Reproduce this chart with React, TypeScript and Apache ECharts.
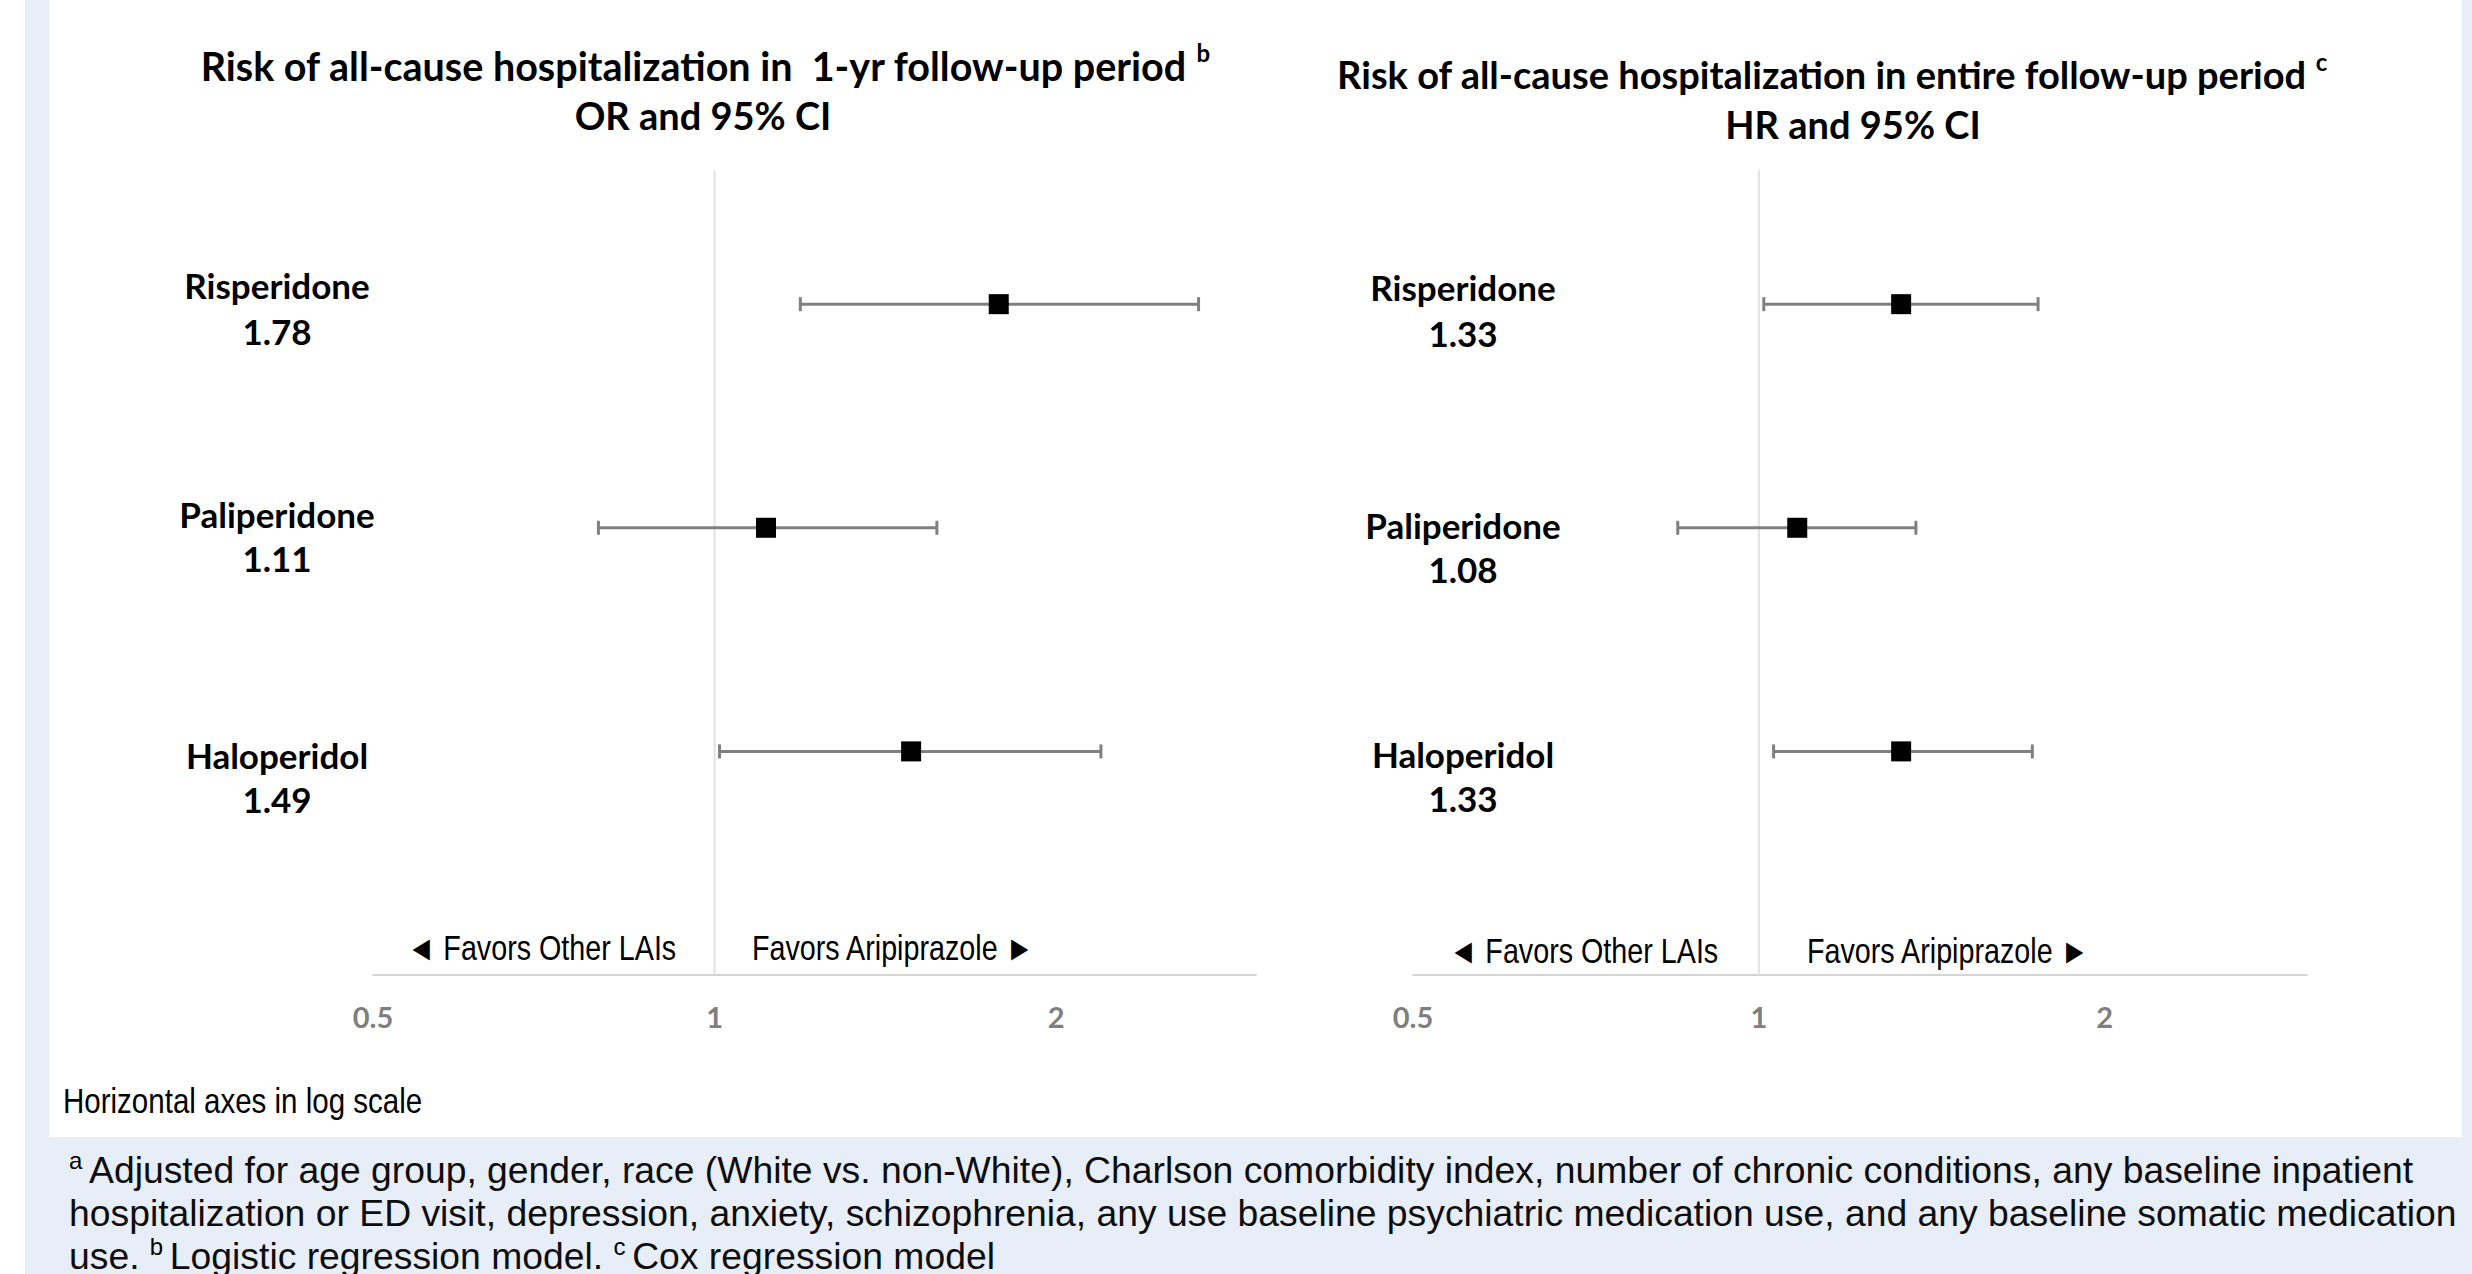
import { useEffect, useRef } from "react";
import * as echarts from "echarts";

// ---------- data ----------
const drugs = ["Risperidone", "Paliperidone", "Haloperidol"];
const rowY = [3, 2, 1];
const orValues = [1.78, 1.11, 1.49];
const orLower = [1.19, 0.79, 1.01];
const orUpper = [2.67, 1.57, 2.19];
const hrValues = [1.33, 1.08, 1.33];
const hrLower = [1.01, 0.85, 1.03];
const hrUpper = [1.75, 1.37, 1.73];
const tickValues = [0.5, 1, 2];
const tickLabels = ["0.5", "1", "2"];
const axisMin = 0.5;
const axisMax = 3;
const yMax = 3.6;

const leftTitle = "Risk of all-cause hospitalization in  1-yr follow-up period";
const leftTitleSup = "b";
const leftSubtitle = "OR and 95% CI";
const rightTitle = "Risk of all-cause hospitalization in entire follow-up period";
const rightTitleSup = "c";
const rightSubtitle = "HR and 95% CI";
const favorsLeft = "\u25C4 Favors Other LAIs";
const favorsRight = "Favors Aripiprazole \u25BA";
const axesNote = "Horizontal axes in log scale";
const footLines = [
  "{sup|a }Adjusted for age group, gender, race (White vs. non-White), Charlson comorbidity index, number of chronic conditions, any baseline inpatient",
  "hospitalization or ED visit, depression, anxiety, schizophrenia, any use baseline psychiatric medication use, and any baseline somatic medication",
  "use. {sup|b }Logistic regression model. {sup|c }Cox regression model",
];

const CAL = "Lato, 'Open Sans', sans-serif";
const ARIAL = "'Liberation Sans', Arial, sans-serif";

export default function App() {
  const ref = useRef<HTMLDivElement>(null);

  useEffect(() => {
    document.body.style.margin = "0";
    const chart = echarts.init(ref.current!, null, { renderer: "svg" });

    const grids = [
      { left: 373, top: 170, width: 883, height: 805 },
      { left: 1413, top: 170, width: 894, height: 805 },
    ];

    const xAxis = grids.map((_, i) => ({
      type: "log",
      logBase: 2,
      gridIndex: i,
      min: axisMin,
      max: axisMax,
      axisLine: { show: true, lineStyle: { color: "#d4d4d4", width: 2 } },
      axisTick: { show: false },
      splitLine: { show: false },
      axisLabel: {
        color: "#7f7f7f",
        fontFamily: CAL,
        fontWeight: "bold",
        fontSize: 29,
        margin: 27,
        showMaxLabel: false,
        formatter: (v: number) => {
          const k = tickValues.findIndex((t) => Math.abs(t - v) < 1e-6);
          return k >= 0 ? tickLabels[k] : "";
        },
      },
    }));

    const yAxis = grids.map((_, i) => ({
      type: "value",
      gridIndex: i,
      min: 0,
      max: yMax,
      show: false,
    }));

    const refLine = (i: number) => ({
      type: "line",
      xAxisIndex: i,
      yAxisIndex: i,
      data: [
        [1, 0],
        [1, yMax],
      ],
      symbol: "none",
      lineStyle: { color: "#e2e2e2", width: 2 },
      silent: true,
      z: 1,
    });

    const errorBars = (i: number, low: number[], high: number[]) => ({
      type: "custom",
      xAxisIndex: i,
      yAxisIndex: i,
      data: rowY.map((y, k) => [low[k], high[k], y]),
      encode: { x: [0, 1], y: 2 },
      z: 3,
      silent: true,
      renderItem: (_p: any, api: any) => {
        const y = api.value(2);
        const a = api.coord([api.value(0), y]);
        const b = api.coord([api.value(1), y]);
        const cap = 7;
        const style = { stroke: "#808080", lineWidth: 3 };
        return {
          type: "group",
          children: [
            { type: "line", shape: { x1: a[0], y1: a[1], x2: b[0], y2: b[1] }, style },
            { type: "line", shape: { x1: a[0], y1: a[1] - cap, x2: a[0], y2: a[1] + cap }, style },
            { type: "line", shape: { x1: b[0], y1: b[1] - cap, x2: b[0], y2: b[1] + cap }, style },
          ],
        };
      },
    });

    const points = (i: number, vals: number[]) => ({
      type: "scatter",
      xAxisIndex: i,
      yAxisIndex: i,
      data: rowY.map((y, k) => [vals[k], y]),
      symbol: "rect",
      symbolSize: 20,
      itemStyle: { color: "#000000", opacity: 1 },
      z: 4,
      silent: true,
    });

    // text element positioned by element x/y so that scaling keeps its anchor
    const txt = (text: string, x: number, y: number, opts: any = {}, extra: any = {}) => ({
      type: "text",
      z: 10,
      silent: true,
      x,
      y,
      ...extra,
      style: {
        text,
        x: 0,
        y: 0,
        fill: "#000000",
        fontFamily: CAL,
        fontWeight: "bold",
        fontSize: 35,
        align: "center",
        textAlign: "center",
        verticalAlign: "middle",
        textVerticalAlign: "middle",
        ...opts,
      },
    });

    const leftNameY = [285, 514, 755];
    const leftValY = [331, 558, 799];
    const rightNameY = [287, 525, 754];
    const rightValY = [333, 569, 798];

    const labelEls: any[] = [];
    drugs.forEach((d, k) => {
      labelEls.push(txt(d, 277, leftNameY[k]));
      labelEls.push(txt(orValues[k].toFixed(2), 277, leftValY[k]));
      labelEls.push(txt(d, 1463, rightNameY[k]));
      labelEls.push(txt(hrValues[k].toFixed(2), 1463, rightValY[k]));
    });

    const titleRich = {
      sup: { fontSize: 24, fontFamily: CAL, fontWeight: "bold", verticalAlign: "top", fill: "#000" },
    };

    const narrow = { scaleX: 0.82 };
    const favOpts = { fontFamily: ARIAL, fontWeight: "normal", fontSize: 35, align: "left", textAlign: "left" };

    const footRich = {
      sup: { fontSize: 24, fontFamily: ARIAL, verticalAlign: "top", fill: "#000" },
    };

    const graphic = [
      { type: "rect", z: -10, silent: true, shape: { x: 0, y: 0, width: 2472, height: 1274 }, style: { fill: "#ffffff" } },
      { type: "rect", z: -9, silent: true, shape: { x: 25, y: 0, width: 2447, height: 1274 }, style: { fill: "#e8eef7" } },
      { type: "rect", z: -8, silent: true, shape: { x: 49, y: 0, width: 2413, height: 1137 }, style: { fill: "#ffffff" } },
      txt(leftTitle + " {sup|" + leftTitleSup + "}", 705, 65, { fontSize: 39.5, rich: titleRich, lineHeight: 50 }),
      txt(leftSubtitle, 703, 115, { fontSize: 38 }),
      txt(rightTitle + " {sup|" + rightTitleSup + "}", 1832, 74, { fontSize: 38, rich: titleRich, lineHeight: 50 }),
      txt(rightSubtitle, 1853, 124, { fontSize: 38 }),
      ...labelEls,
      txt(favorsLeft, 407, 948, favOpts, narrow),
      txt(favorsRight, 752, 948, favOpts, narrow),
      txt(favorsLeft, 1449, 951, favOpts, narrow),
      txt(favorsRight, 1807, 951, favOpts, narrow),
      txt(axesNote, 63, 1100, { ...favOpts, fontSize: 36 }, narrow),
      ...footLines.map((l, k) =>
        txt(l, 69, 1170 + k * 43, {
          fontFamily: ARIAL,
          fontWeight: "normal",
          fontSize: 37.3,
          lineHeight: 43,
          align: "left",
          textAlign: "left",
          fill: "#0d0d0d",
          rich: footRich,
        })
      ),
    ];

    chart.setOption({
      animation: false,
      backgroundColor: "transparent",
      grid: grids.map((g) => ({ ...g, containLabel: false })),
      xAxis,
      yAxis,
      series: [
        refLine(0),
        refLine(1),
        errorBars(0, orLower, orUpper),
        errorBars(1, hrLower, hrUpper),
        points(0, orValues),
        points(1, hrValues),
      ],
      graphic,
    });

    return () => chart.dispose();
  }, []);

  return <div ref={ref} style={{ width: 2472, height: 1274 }} />;
}
